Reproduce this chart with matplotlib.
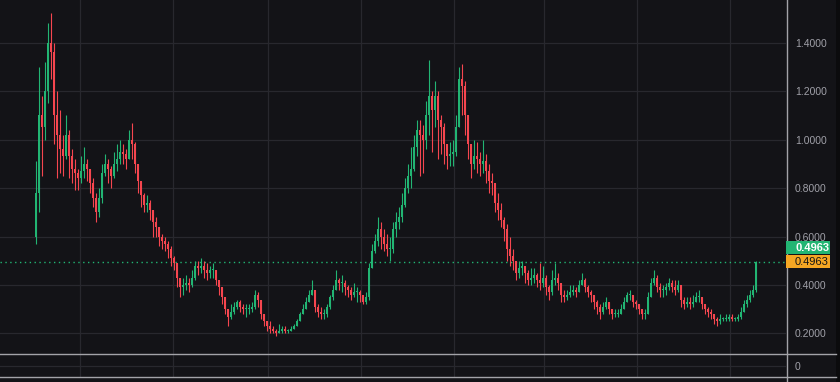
import matplotlib
matplotlib.use("Agg")  # headless rendering
import matplotlib.pyplot as plt
import numpy as np
from matplotlib.patches import Rectangle
from matplotlib.lines import Line2D

# --- candle data (one candle ~3 px wide) ---
first_open = 0.60
closes = [
    0.78, 1.10, 1.05, 1.20, 1.40, 1.36, 1.10, 1.02, 0.96, 0.93,
    1.02, 0.93, 0.88, 0.86, 0.84, 0.87, 0.90, 0.88, 0.82, 0.76,
    0.70, 0.76, 0.86, 0.90, 0.88, 0.85, 0.90, 0.92, 0.95, 0.94,
    0.92, 1.00, 0.98, 0.90, 0.83, 0.77, 0.73, 0.74, 0.71, 0.66,
    0.64, 0.60, 0.58, 0.57, 0.55, 0.51, 0.49, 0.43, 0.39, 0.40,
    0.41, 0.40, 0.43, 0.48, 0.47, 0.48, 0.46, 0.45, 0.46, 0.46,
    0.42, 0.39, 0.35, 0.30, 0.27, 0.29, 0.31, 0.33, 0.31, 0.30,
    0.30, 0.30, 0.31, 0.36, 0.34, 0.28, 0.25, 0.23, 0.22, 0.21,
    0.20, 0.21, 0.22, 0.21, 0.21, 0.22, 0.23, 0.25, 0.28, 0.30,
    0.33, 0.36, 0.38, 0.31, 0.29, 0.28, 0.28, 0.31, 0.35, 0.38,
    0.42, 0.41, 0.41, 0.39, 0.38, 0.36, 0.37, 0.37, 0.36, 0.33,
    0.35, 0.47, 0.54, 0.58, 0.63, 0.60, 0.57, 0.55, 0.55, 0.63,
    0.66, 0.68, 0.73, 0.80, 0.85, 0.88, 0.97, 1.04, 1.02, 1.00,
    1.10, 1.18, 1.12, 1.18, 1.08, 1.05, 0.98, 0.93, 0.94, 0.95,
    1.05, 1.25, 1.22, 1.10, 0.98, 0.90, 0.93, 0.92, 0.90, 0.91,
    0.87, 0.83, 0.82, 0.74, 0.71, 0.67, 0.63, 0.55, 0.52, 0.50,
    0.45, 0.47, 0.48, 0.45, 0.42, 0.43, 0.44, 0.42, 0.41, 0.43,
    0.39, 0.37, 0.42, 0.43, 0.41, 0.36, 0.35, 0.36, 0.37, 0.38,
    0.37, 0.40, 0.42, 0.39, 0.37, 0.36, 0.33, 0.31, 0.29, 0.31,
    0.33, 0.30, 0.28, 0.28, 0.28, 0.30, 0.33, 0.36, 0.36, 0.33,
    0.32, 0.30, 0.28, 0.28, 0.35, 0.41, 0.43, 0.39, 0.38, 0.38,
    0.39, 0.41, 0.39, 0.38, 0.40, 0.34, 0.32, 0.33, 0.32, 0.33,
    0.35, 0.35, 0.32, 0.30, 0.29, 0.28, 0.26, 0.25, 0.26, 0.26,
    0.26, 0.27, 0.26, 0.26, 0.27, 0.29, 0.32, 0.34, 0.36, 0.38,
    0.4963,
]
highs = [
    0.91, 1.30, 1.18, 1.32, 1.48, 1.52, 1.40, 1.20, 1.12, 1.02,
    1.10, 1.04, 0.96, 0.92, 0.88, 0.93, 0.97, 0.92, 0.88, 0.84,
    0.78, 0.80, 0.90, 0.94, 0.92, 0.89, 0.95, 0.98, 1.00, 0.98,
    0.96, 1.04, 1.07, 0.99, 0.90, 0.82, 0.78, 0.77, 0.75, 0.70,
    0.68, 0.63, 0.61, 0.60, 0.58, 0.56, 0.52, 0.47, 0.43, 0.43,
    0.44, 0.43, 0.46, 0.50, 0.50, 0.51, 0.50, 0.49, 0.48, 0.49,
    0.46, 0.42, 0.39, 0.34, 0.30, 0.32, 0.33, 0.34, 0.34, 0.32,
    0.32, 0.32, 0.33, 0.38, 0.37, 0.33, 0.28, 0.25, 0.25, 0.23,
    0.22, 0.24, 0.23, 0.23, 0.22, 0.23, 0.24, 0.26, 0.29, 0.32,
    0.35, 0.38, 0.42, 0.37, 0.32, 0.31, 0.30, 0.32, 0.36, 0.40,
    0.46, 0.43, 0.44, 0.42, 0.40, 0.39, 0.41, 0.39, 0.38, 0.36,
    0.37, 0.49, 0.57, 0.61, 0.68, 0.66, 0.63, 0.61, 0.60, 0.66,
    0.70, 0.72, 0.78, 0.84, 0.90, 0.97, 1.02, 1.08, 1.08, 1.06,
    1.16, 1.33, 1.20, 1.24, 1.20, 1.10, 1.07, 0.98, 0.99, 1.00,
    1.10, 1.30, 1.31, 1.24, 1.10, 0.98, 1.00, 0.99, 0.95, 1.00,
    0.94, 0.90, 0.86, 0.82, 0.78, 0.74, 0.68, 0.65, 0.60, 0.55,
    0.50, 0.50, 0.50, 0.48, 0.46, 0.47, 0.47, 0.45, 0.49, 0.48,
    0.44, 0.40, 0.46, 0.49, 0.45, 0.40, 0.38, 0.38, 0.40, 0.40,
    0.39, 0.42, 0.45, 0.43, 0.40, 0.38, 0.36, 0.34, 0.32, 0.33,
    0.35, 0.33, 0.30, 0.30, 0.30, 0.32, 0.35, 0.37, 0.38, 0.36,
    0.34, 0.32, 0.30, 0.30, 0.37, 0.43, 0.46, 0.44, 0.41, 0.40,
    0.41, 0.43, 0.42, 0.42, 0.42, 0.38, 0.35, 0.35, 0.35, 0.36,
    0.37, 0.38, 0.35, 0.32, 0.31, 0.30, 0.28, 0.27, 0.28, 0.27,
    0.28, 0.28, 0.28, 0.27, 0.28, 0.31, 0.34, 0.36, 0.38, 0.40,
    0.50,
]
lows = [
    0.57, 0.70, 0.85, 1.00, 1.15, 1.25, 0.98, 0.84, 0.86, 0.85,
    0.92, 0.84, 0.82, 0.79, 0.79, 0.82, 0.84, 0.83, 0.78, 0.72,
    0.66, 0.68, 0.74, 0.85, 0.82, 0.80, 0.84, 0.87, 0.90, 0.90,
    0.88, 0.92, 0.92, 0.86, 0.78, 0.72, 0.70, 0.70, 0.67, 0.60,
    0.60, 0.56, 0.55, 0.54, 0.51, 0.48, 0.46, 0.39, 0.35, 0.36,
    0.38, 0.37, 0.39, 0.42, 0.44, 0.45, 0.43, 0.42, 0.43, 0.43,
    0.40, 0.36, 0.32, 0.28, 0.23, 0.26, 0.28, 0.30, 0.29, 0.28,
    0.27, 0.28, 0.29, 0.30, 0.31, 0.26, 0.23, 0.21, 0.20, 0.20,
    0.19, 0.20, 0.20, 0.20, 0.20, 0.21, 0.22, 0.23, 0.25, 0.28,
    0.30, 0.33, 0.36, 0.29, 0.27, 0.26, 0.26, 0.27, 0.30, 0.34,
    0.38, 0.38, 0.37, 0.36, 0.35, 0.34, 0.35, 0.33, 0.33, 0.32,
    0.32, 0.34, 0.48, 0.53, 0.56, 0.55, 0.54, 0.52, 0.50, 0.53,
    0.60, 0.63, 0.66, 0.72, 0.78, 0.80, 0.87, 0.93, 0.85, 0.86,
    0.96, 1.02, 0.95, 1.05, 0.92, 0.94, 0.90, 0.88, 0.89, 0.89,
    0.93, 1.05, 1.10, 1.02, 0.92, 0.84, 0.88, 0.86, 0.85, 0.86,
    0.82, 0.78, 0.77, 0.70, 0.67, 0.64, 0.58, 0.50, 0.48, 0.46,
    0.42, 0.43, 0.44, 0.41, 0.40, 0.40, 0.41, 0.39, 0.38, 0.39,
    0.36, 0.34, 0.36, 0.40, 0.38, 0.33, 0.33, 0.34, 0.35, 0.36,
    0.35, 0.37, 0.40, 0.37, 0.35, 0.33, 0.30, 0.28, 0.26, 0.28,
    0.30, 0.28, 0.26, 0.27, 0.27, 0.28, 0.30, 0.33, 0.34, 0.31,
    0.30, 0.28, 0.26, 0.26, 0.28, 0.36, 0.40, 0.37, 0.35, 0.35,
    0.36, 0.38, 0.37, 0.36, 0.37, 0.31, 0.30, 0.31, 0.30, 0.31,
    0.33, 0.33, 0.30, 0.28, 0.27, 0.26, 0.24, 0.23, 0.24, 0.25,
    0.25, 0.25, 0.25, 0.25, 0.25, 0.26, 0.29, 0.31, 0.33, 0.35,
    0.37,
]
price_ticks = [0.2, 0.4, 0.6, 0.8, 1.0, 1.2, 1.4]
date_grid = [14.7, 45.7, 77.3, 108.3, 139.3, 169.3, 200.3, 231.3]

BG = "#131317"
GRID = "#28282e"
TXT = "#a0a0a8"
UP = "#22b573"
DOWN = "#f6464f"
ORANGE = "#f5a623"
SEP = "#a3a3a8"

W, H = 840, 382
c = np.array(closes)
o = np.array([first_open] + closes[:-1])
hi = np.maximum(np.array(highs), np.maximum(o, c))
lo = np.minimum(np.array(lows), np.minimum(o, c))
x = np.arange(len(c))
up = c >= o
colors = np.where(up, UP, DOWN)

fig = plt.figure(figsize=(W / 100, H / 100), dpi=100, facecolor=BG)
ax = fig.add_axes([0, 28 / H, 786 / W, 354 / H], facecolor=BG)
vol = fig.add_axes([0, 5 / H, 786 / W, 22 / H], facecolor=BG)

# candles
ax.vlines(x, lo, hi, colors=colors, lw=0.8, zorder=3)
ax.bar(x, np.maximum(np.abs(c - o), 0.004), bottom=np.minimum(o, c),
       width=0.6, color=colors, lw=0, zorder=3)

ax.set_xlim(-12, 250)
ax.set_ylim(0.1154, 1.5754)
ax.axhline(c[-1], color=UP, ls=(0, (1, 2.5)), lw=1.0, zorder=2)

for a in (ax, vol):
    a.set_xlim(-12, 250)
    a.set_xticks(date_grid)
    a.tick_params(axis="x", length=0, labelbottom=False)
    a.grid(True, color=GRID, lw=0.9)
    a.set_axisbelow(True)
    for s in a.spines.values():
        s.set_visible(False)
    a.yaxis.tick_right()
    a.tick_params(axis="y", length=0, pad=6.5, labelcolor=TXT, labelsize=7.5)

ax.set_yticks(price_ticks)
ax.set_yticklabels([f"{v:.4f}" for v in price_ticks], family="Liberation Sans")

vol.set_ylim(-1, 1)
vol.set_yticks([0])
vol.set_yticklabels(["0"], family="Liberation Sans")

# last price tags on the axis
y_last = ax.transData.transform((0, c[-1]))[1] / H
tag_h = 13 / H
x0, w = 786 / W, 44 / W
fig.patches.append(Rectangle((x0, y_last - tag_h / 2), w, tag_h, transform=fig.transFigure,
                             facecolor=ORANGE, lw=0, zorder=5))
fig.patches.append(Rectangle((x0, y_last + tag_h / 2 + 1 / H), w, tag_h, transform=fig.transFigure,
                             facecolor=UP, lw=0, zorder=5))
fig.text(795 / W, y_last, f"{c[-1]:.4f}", color="#151515", fontsize=8,
         family="Liberation Sans", va="center", ha="left", zorder=6)
fig.text(795 / W, y_last + tag_h + 1 / H, f"{c[-1]:.4f}", color="white", fontsize=8,
         fontweight="bold", family="Liberation Sans", va="center", ha="left", zorder=6)

# pane separators and price-scale border
fig.lines.append(Line2D([0, 836 / W], [1 - 354 / H] * 2, transform=fig.transFigure, color=SEP, lw=1))
fig.lines.append(Line2D([0, 836 / W], [1 - 377 / H] * 2, transform=fig.transFigure, color=SEP, lw=1))
fig.lines.append(Line2D([786.5 / W] * 2, [0, 1], transform=fig.transFigure, color=SEP, lw=1))
fig.patches.append(Rectangle((836 / W, 0), 4 / W, 1, transform=fig.transFigure,
                             facecolor="#0b0b0d", lw=0))

fig.savefig("out.png", dpi=100, facecolor=BG)
